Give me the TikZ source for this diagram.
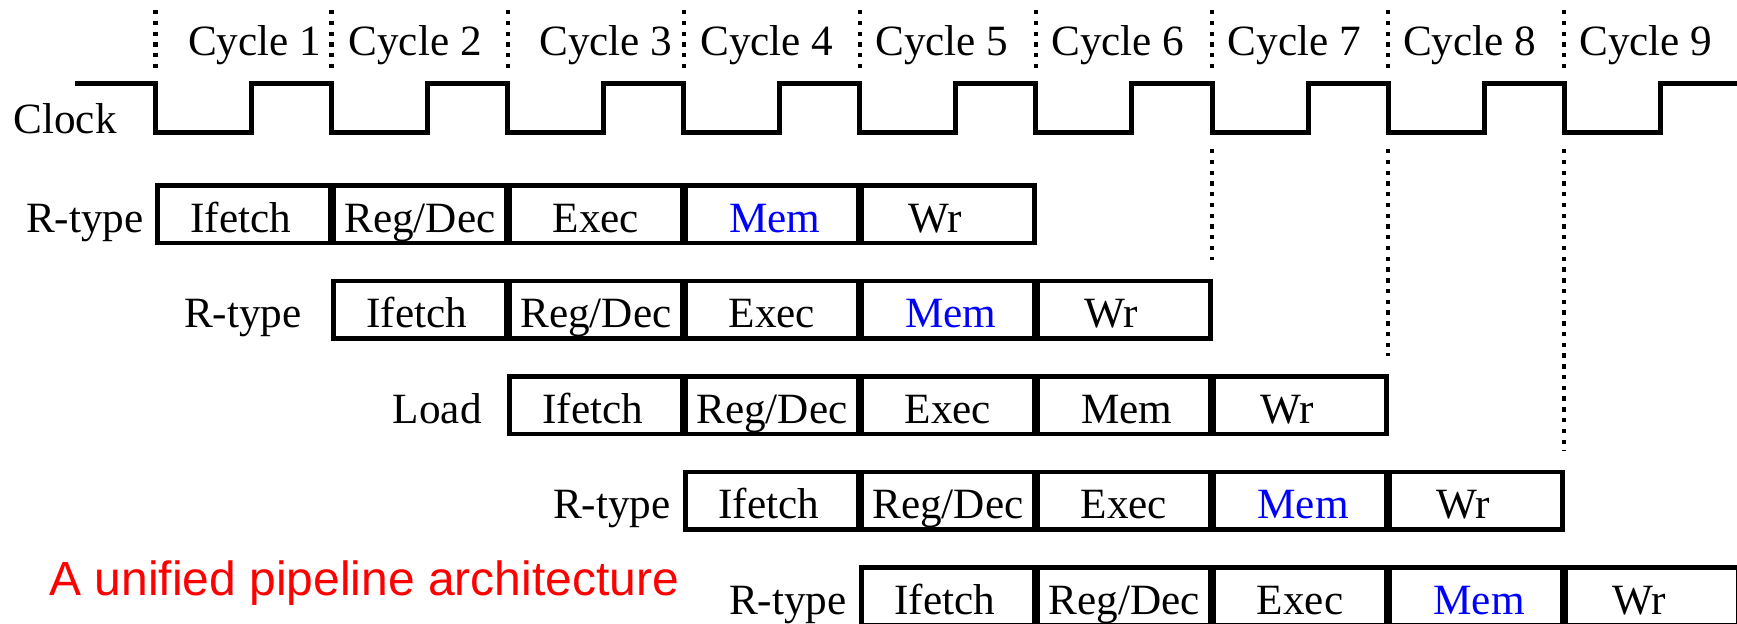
\documentclass[tikz,border=0pt]{standalone}
\usepackage{fontspec}
\setmainfont{Liberation Serif}
\newfontfamily\arialfont{Liberation Sans}
\newcommand\regdec{Reg/Dec}
\begin{document}
\begin{tikzpicture}[x=0.5pt,y=-0.5pt,
  wave/.style={line width=2.5pt, line join=miter},
  stagebox/.style={line width=2.4pt},
  dotline/.style={line width=2.3pt, dash pattern=on 2.2pt off 3.18pt},
  lbl/.style={inner sep=0pt, font=\fontsize{21.6pt}{26pt}\selectfont},
  note/.style={inner sep=0pt, text=red, font=\arialfont\fontsize{24pt}{29pt}\selectfont},
]
\useasboundingbox (0,0) rectangle (1737,623);
\clip (0,0) rectangle (1737,623);

% clock
\node[lbl, anchor=base west] (clk) at (13,133) {Clock};
\draw[wave] (75,83)
  \foreach \i in {1,...,9}{ -- ({155.7+176.05*(\i-1)},83) -- ++(0,49) -- ++(96,0) -- ++(0,-49) }
  -- (1740,83);

% cycle boundaries and labels
\foreach \i/\off in {1/32,2/16.4,3/31,4/16,5/15,6/15,7/15.5,8/14.6,9/14.7}{
  \pgfmathsetmacro\bx{155.7+176.05*(\i-1)}
  \draw[dotline] (\bx,10) -- (\bx,68);
  \node[lbl, anchor=base west] (cyc\i) at (\bx+\off,55) {Cycle \i};
}

% lower dotted lines
\draw[dotline] (1212.0,149) -- (1212.0,260);
\draw[dotline] (1388.05,149) -- (1388.05,356);
\draw[dotline] (1564.1,149) -- (1564.1,451);

% instruction rows
\foreach \r/\lab/\lx/\memcol in {1/R-type/144/blue,2/R-type/302/blue,3/Load/482/black,4/R-type/671/blue,5/R-type/847/blue}{
  \pgfmathsetmacro\top{183+95.5*(\r-1)}
  \colorlet{memc}{\memcol}
  \node[lbl, anchor=base east] (L\r) at (\lx,\top+49) {\lab};
  \foreach \s/\txt/\toff/\tc in {0/Ifetch/-3/black,1/\regdec/0/black,2/Exec/0/black,3/Mem/3/memc,4/Wr/-13/black}{
    \pgfmathsetmacro\bl{155.7+176.05*(\r+\s-1)}
    \pgfmathsetmacro\br{\bl+176.05}
    \draw[stagebox] (\bl+1.8,\top+2.5) rectangle (\br-1.8,\top+60);
    \node[lbl, anchor=base, text=\tc] (s\r\s) at ({(\bl+\br)/2+\toff},\top+49) {\txt};
  }
}

% note
\node[note, anchor=base west] (note1) at (49,595) {A unified pipeline architecture};
\end{tikzpicture}
\end{document}
